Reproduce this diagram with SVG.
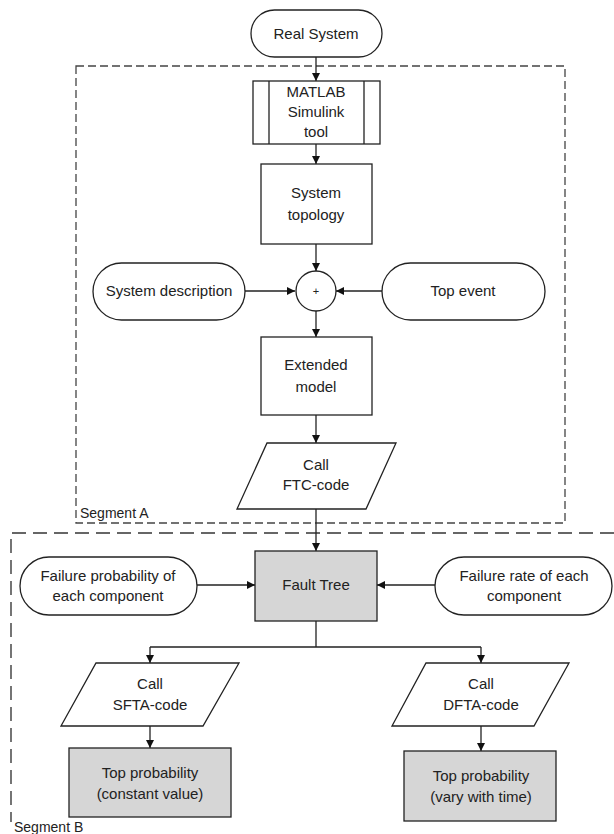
<svg xmlns="http://www.w3.org/2000/svg" width="614" height="834" viewBox="0 0 614 834">
<defs>
<marker id="ah" markerWidth="10" markerHeight="10" refX="9" refY="5" orient="auto" markerUnits="userSpaceOnUse">
<path d="M1,1 L9,5 L1,9 Z" fill="#111"/>
</marker>
<style>
.n{fill:#fff;stroke:#222;stroke-width:1.3}
.g{fill:#d6d6d6;stroke:#222;stroke-width:1.3}
.t{font-family:"Liberation Sans",Arial,sans-serif;font-size:15px;fill:#222;text-anchor:middle}
.c{fill:none;stroke:#222;stroke-width:1.3}
.c2{fill:none;stroke:#222;stroke-width:1.3;marker-end:url(#ah)}
.segA{fill:none;stroke:#444;stroke-width:1.3;stroke-dasharray:8 4}
.segB{fill:none;stroke:#666;stroke-width:1.8;stroke-dasharray:14 7}
.lbl{font-family:"Liberation Sans",Arial,sans-serif;font-size:14px;fill:#222}
</style>
</defs>
<rect width="614" height="834" fill="#fff"/>
<g id="segmentA">
<rect class="segA" x="76" y="66" width="489" height="457"/>
<text class="lbl" x="80" y="518">Segment A</text>
</g>
<g id="segmentB">
<path class="segB" d="M614,533 H11 V822"/>
<text class="lbl" x="14" y="832">Segment B</text>
</g>
<g id="connectors">
<path class="c2" d="M316,57 V81"/>
<path class="c2" d="M316,144 V164"/>
<path class="c2" d="M316,244 V271"/>
<path class="c2" d="M245,291 H295"/>
<path class="c2" d="M382,291 H336"/>
<path class="c2" d="M316,311 V337"/>
<path class="c2" d="M316,415 V443"/>
<path class="c2" d="M316,509 V551"/>
<path class="c2" d="M197,585 H255"/>
<path class="c2" d="M435,585 H377"/>
<path class="c" d="M316,621 V647 M150,647 H481"/>
<path class="c2" d="M150,647 V663"/>
<path class="c2" d="M481,647 V663"/>
<path class="c2" d="M150,726 V748"/>
<path class="c2" d="M481,726 V751"/>
</g>
<g id="real-system">
<rect class="n" x="251" y="10" width="131" height="47" rx="23.5"/>
<text class="t" x="316" y="39">Real System</text>
</g>
<g id="matlab">
<rect class="n" x="253" y="81" width="127" height="63"/>
<path class="c" d="M269,81 V144 M364,81 V144"/>
<text class="t" x="316" y="97">MATLAB</text>
<text class="t" x="316" y="117">Simulink</text>
<text class="t" x="316" y="137">tool</text>
</g>
<g id="system-topology">
<rect class="n" x="261" y="164" width="111" height="80"/>
<text class="t" x="316" y="198">System</text>
<text class="t" x="316" y="220">topology</text>
</g>
<g id="system-description">
<rect class="n" x="93" y="263" width="152" height="57" rx="28.5"/>
<text class="t" x="169" y="296">System description</text>
</g>
<g id="plus">
<circle class="n" cx="316" cy="291" r="20"/>
<text class="t" x="316" y="295" style="font-size:11px">+</text>
</g>
<g id="top-event">
<rect class="n" x="382" y="263" width="163" height="57" rx="28.5"/>
<text class="t" x="463" y="296">Top event</text>
</g>
<g id="extended-model">
<rect class="n" x="261" y="337" width="111" height="78"/>
<text class="t" x="316" y="370">Extended</text>
<text class="t" x="316" y="392">model</text>
</g>
<g id="call-ftc">
<polygon class="n" points="267,443 396,443 366,509 237,509"/>
<text class="t" x="316" y="470">Call</text>
<text class="t" x="316" y="490">FTC-code</text>
</g>
<g id="failure-probability">
<rect class="n" x="20" y="557" width="177" height="58" rx="29"/>
<text class="t" x="108" y="581">Failure probability of</text>
<text class="t" x="108" y="601">each component</text>
</g>
<g id="fault-tree">
<rect class="g" x="255" y="551" width="122" height="70"/>
<text class="t" x="316" y="590">Fault Tree</text>
</g>
<g id="failure-rate">
<rect class="n" x="435" y="557" width="177" height="58" rx="29"/>
<text class="t" x="524" y="581">Failure rate of each</text>
<text class="t" x="524" y="601">component</text>
</g>
<g id="call-sfta">
<polygon class="n" points="96,663 239,663 203,726 61,726"/>
<text class="t" x="150" y="689">Call</text>
<text class="t" x="150" y="710">SFTA-code</text>
</g>
<g id="call-dfta">
<polygon class="n" points="426,663 569,663 534,726 392,726"/>
<text class="t" x="481" y="689">Call</text>
<text class="t" x="481" y="710">DFTA-code</text>
</g>
<g id="top-prob-constant">
<rect class="g" x="69" y="748" width="162" height="69"/>
<text class="t" x="150" y="778">Top probability</text>
<text class="t" x="150" y="799">(constant value)</text>
</g>
<g id="top-prob-time">
<rect class="g" x="404" y="751" width="152" height="70"/>
<text class="t" x="481" y="781">Top probability</text>
<text class="t" x="481" y="802">(vary with time)</text>
</g>
</svg>
